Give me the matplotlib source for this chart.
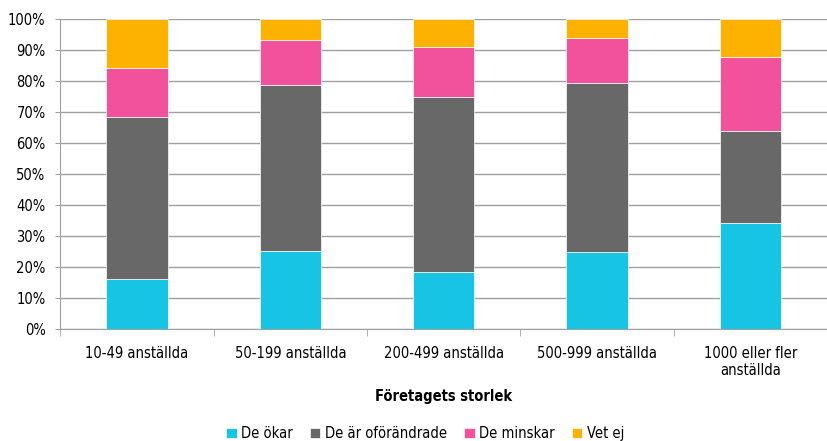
import matplotlib.pyplot as plt
import numpy as np
from matplotlib.ticker import PercentFormatter, FixedLocator
from matplotlib import font_manager

# use a condensed face if one is installed
condensed = [f for f in font_manager.fontManager.ttflist
             if ("Condensed" in f.fname or "Narrow" in f.fname)
             and "Bold" not in f.fname and "Oblique" not in f.fname and "Italic" not in f.fname]
if condensed:
    plt.rcParams["font.family"] = [condensed[0].name, "DejaVu Sans"]
    plt.rcParams["font.stretch"] = "condensed"
    fs = 10.5
else:
    plt.rcParams["font.family"] = ["DejaVu Sans"]
    fs = 9

categories = ["10-49 anställda", "50-199 anställda", "200-499 anställda",
              "500-999 anställda", "1000 eller fler\nanställda"]
series_names = ["De ökar", "De är oförändrade", "De minskar", "Vet ej"]
okar = [16.0, 25.0, 18.2, 24.7, 34.1]
oforandrade = [52.2, 53.8, 56.7, 54.7, 29.8]
minskar = [16.0, 14.4, 16.0, 14.5, 23.9]
vet_ej = [15.8, 6.8, 9.1, 6.1, 12.2]
colors = ["#17C4E4", "#686868", "#F2519B", "#FDB100"]

fig = plt.figure(figsize=(8.27, 4.41), dpi=100)
ax = fig.add_axes([0.073, 0.255, 0.927, 0.702])

x = np.arange(len(categories))
bottom = np.zeros(len(categories))
for name, vals, c in zip(series_names, [okar, oforandrade, minskar, vet_ej], colors):
    ax.bar(x, vals, width=0.4, bottom=bottom, color=c, label=name,
           edgecolor="white", linewidth=0.5, zorder=3)
    bottom += np.array(vals)

ax.set_xlim(-0.5, len(categories) - 0.5)
ax.set_ylim(0, 100)
ax.set_yticks(np.arange(0, 101, 10))
ax.yaxis.set_major_formatter(PercentFormatter(decimals=0))
ax.grid(axis="y", color="#A0A0A0", linewidth=1.0, zorder=0)

ax.set_xticks(x)
ax.set_xticklabels(categories, fontsize=fs, linespacing=1.2)
ax.xaxis.set_minor_locator(FixedLocator(np.arange(-0.5, len(categories), 1)))
ax.tick_params(axis="x", which="major", length=0, pad=12.5)
ax.tick_params(axis="x", which="minor", length=5, color="#A0A0A0")
ax.tick_params(axis="y", length=3.6, color="#A0A0A0", labelsize=fs, pad=7)

for s in ["top", "right"]:
    ax.spines[s].set_visible(False)
for s in ["left", "bottom"]:
    ax.spines[s].set_color("#A0A0A0")

ax.set_xlabel("Företagets storlek", fontsize=fs, fontweight="bold", labelpad=8)

ax.legend(loc="center", bbox_to_anchor=(0.476, -0.34), ncol=4, frameon=False,
          fontsize=fs, handlelength=0.7, handleheight=0.7, handletextpad=0.3,
          columnspacing=1.2, borderpad=0)

fig.savefig("out.png", dpi=100)
